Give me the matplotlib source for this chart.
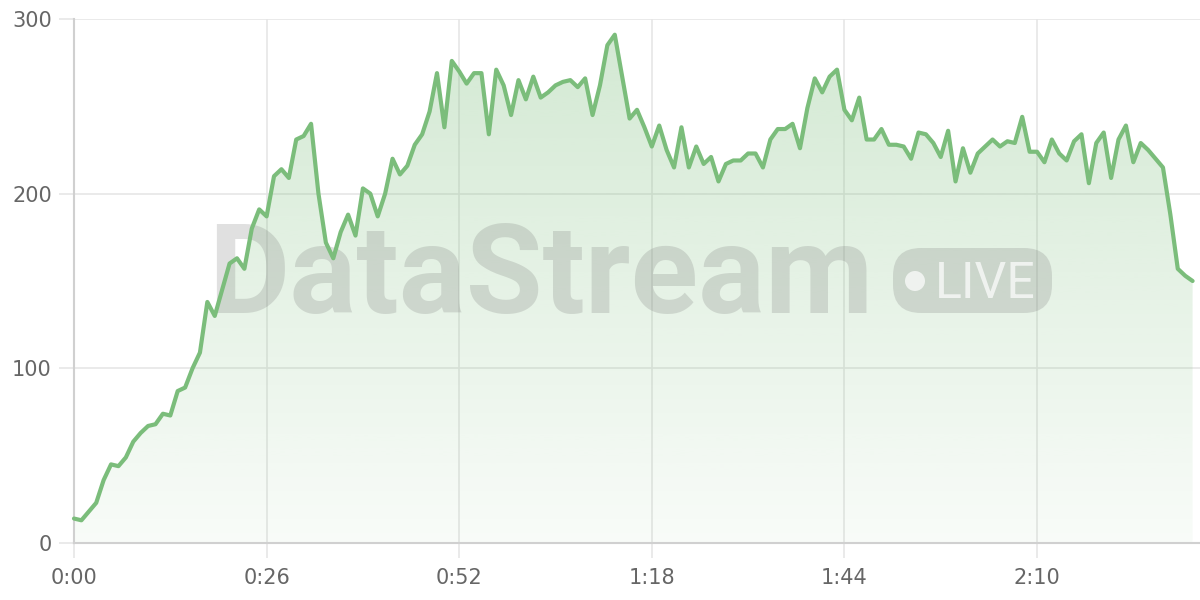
import numpy as np
import matplotlib
matplotlib.use("Agg")
import matplotlib.pyplot as plt
from matplotlib.colors import to_rgb
from matplotlib.patches import FancyBboxPatch, Circle
from matplotlib.transforms import IdentityTransform

# viewers per second
values = [
    14, 13, 18, 23, 36, 45, 44, 49, 58, 63,
    67, 68, 74, 73, 87, 89, 100, 109, 138, 130,
    145, 160, 163, 157, 180, 191, 187, 210, 214, 209,
    231, 233, 240, 200, 172, 163, 178, 188, 176, 203,
    200, 187, 200, 220, 211, 216, 228, 234, 247, 269,
    238, 276, 270, 263, 269, 269, 234, 271, 262, 245,
    265, 254, 267, 255, 258, 262, 264, 265, 261, 266,
    245, 262, 285, 291, 267, 243, 248, 238, 227, 239,
    225, 215, 238, 215, 227, 217, 221, 207, 217, 219,
    219, 223, 223, 215, 231, 237, 237, 240, 226, 249,
    266, 258, 267, 271, 248, 242, 255, 231, 231, 237,
    228, 228, 227, 220, 235, 234, 229, 221, 236, 207,
    226, 212, 223, 227, 231, 227, 230, 229, 244, 224,
    224, 218, 231, 223, 219, 230, 234, 206, 229, 235,
    209, 231, 239, 218, 229, 225, 220, 215, 188, 157,
    153, 150,
]
seconds = list(range(len(values)))

x_ticks = [0, 26, 52, 78, 104, 130]
x_labels = ["0:00", "0:26", "0:52", "1:18", "1:44", "2:10"]
y_ticks = [0, 100, 200, 300]

LINE = "#7bbd7b"
GRID = "#e6e6e6"
AXIS = "#d0d0d0"
LABEL = "#666666"

plt.rcParams["font.family"] = ["DejaVu Sans"]

fig = plt.figure(figsize=(12, 6), dpi=100)
ax = fig.add_axes([74 / 1200, 57 / 600, 1126 / 1200, 524 / 600])
ax.set_xlim(0, 152)
ax.set_ylim(0, 300)

# gradient fill under the line
grad = np.zeros((256, 1, 4))
grad[..., :3] = to_rgb(LINE)
grad[..., 3] = np.linspace(0.05, 0.34, 256).reshape(-1, 1)
im = ax.imshow(grad, extent=[0, 152, 0, 300], origin="lower", aspect="auto",
               zorder=1, interpolation="bilinear")
poly = ax.fill_between(seconds, values, 0, color="none", lw=0)
im.set_clip_path(poly.get_paths()[0], ax.transData)

ax.plot(seconds, values, color=LINE, lw=3, solid_joinstyle="round",
        solid_capstyle="round", zorder=4, clip_on=False)

# watermark
wm = (0.45, 0.45, 0.45)
ax.text(208 / 1200, 1 - 313 / 600, "DataStream", transform=fig.transFigure,
        fontsize=90, fontweight="bold", family="Roboto", color=wm, alpha=0.22,
        ha="left", va="baseline", zorder=2)
badge = FancyBboxPatch((893, 287), 159, 65, boxstyle="round,pad=0,rounding_size=28",
                       transform=IdentityTransform(), facecolor=wm, alpha=0.22,
                       edgecolor="none", zorder=2, clip_on=False)
ax.add_patch(badge)
ax.add_patch(Circle((915, 319), 10, transform=IdentityTransform(),
                    facecolor="white", alpha=0.7, edgecolor="none", zorder=2,
                    clip_on=False))
ax.text(935 / 1200, 1 - 298 / 600, "LIVE", transform=fig.transFigure,
        fontsize=36, family="Roboto", color="white", alpha=0.7,
        ha="left", va="baseline", zorder=2)

# axes styling
ax.set_xticks(x_ticks)
ax.set_xticklabels(x_labels)
ax.set_yticks(y_ticks)
ax.grid(True, color=GRID, lw=1.2, zorder=0)
ax.set_axisbelow(True)
for side in ["top", "right"]:
    ax.spines[side].set_visible(False)
for side in ["left", "bottom"]:
    ax.spines[side].set_color(AXIS)
    ax.spines[side].set_linewidth(1.5)
ax.tick_params(axis="both", length=11, width=1.2, color=GRID,
               labelcolor=LABEL, labelsize=15)
ax.tick_params(axis="y", pad=5)
ax.tick_params(axis="x", pad=7)

fig.savefig("out.png", dpi=100)
